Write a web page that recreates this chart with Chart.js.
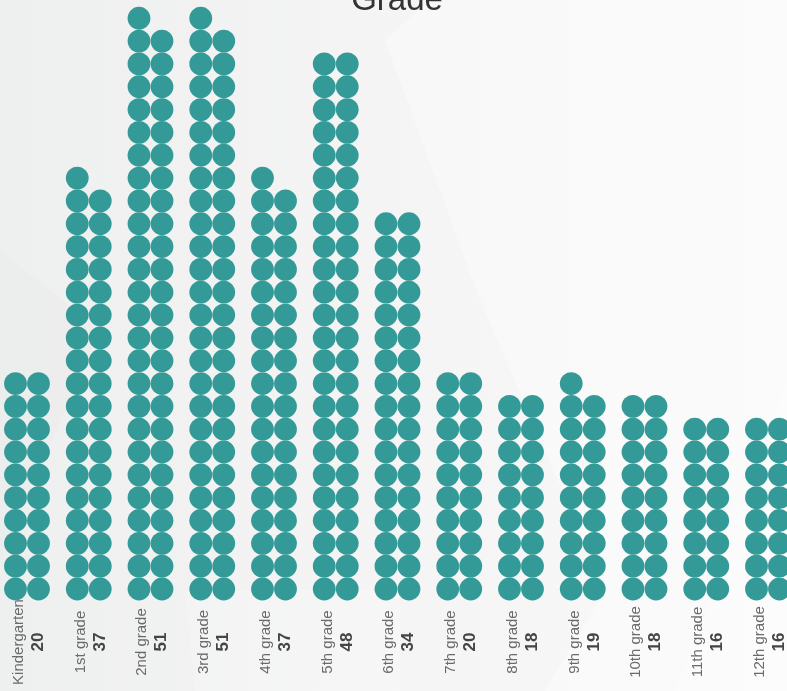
<!DOCTYPE html>
<html>
<head>
<meta charset="utf-8">
<title>Grade</title>
<script src="https://cdn.jsdelivr.net/npm/chart.js@4/dist/chart.umd.min.js"></script>
<style>
  html, body { margin: 0; padding: 0; background: #f5f5f5; }
  #gradeChart { display: block; }
</style>
</head>
<body>
<canvas id="gradeChart" width="787" height="691"></canvas>
<script>
// students per grade, one dot per student
const grades = ['Kindergarten', '1st grade', '2nd grade', '3rd grade', '4th grade', '5th grade',
  '6th grade', '7th grade', '8th grade', '9th grade', '10th grade', '11th grade', '12th grade'];
const students = [20, 37, 51, 51, 37, 48, 34, 20, 18, 19, 18, 16, 16];

const dotColor = '#339a98';
const colOffset = 0.1862; // half a dot width, in category units

// stack the dots two wide, odd one goes on top of the left column
let dots = [];
grades.forEach((g, i) => {
  for (let k = 0; k < students[i]; k++) {
    const row = Math.floor(k / 2);
    const side = k % 2 === 0 ? -1 : 1;
    dots.push({ x: i + side * colOffset, y: row });
  }
});

const backdrop = {
  id: 'backdrop',
  beforeDraw(chart) {
    const { ctx, width, height } = chart;
    ctx.save();
    const g = ctx.createLinearGradient(0, 0, width, 0);
    g.addColorStop(0, '#eeefef');
    g.addColorStop(0.45, '#f4f4f4');
    g.addColorStop(1, '#f9f9f9');
    ctx.fillStyle = g;
    ctx.fillRect(0, 0, width, height);
    const poly = (pts, fill) => {
      ctx.beginPath();
      ctx.moveTo(pts[0][0], pts[0][1]);
      pts.slice(1).forEach(p => ctx.lineTo(p[0], p[1]));
      ctx.closePath();
      ctx.fillStyle = fill;
      ctx.fill();
    };
    // faint low-poly facets
    poly([[430, 0], [787, 0], [787, 691], [545, 691], [605, 590], [480, 300], [385, 40]], 'rgba(255,255,255,0.35)');
    poly([[787, 380], [787, 691], [675, 691], [715, 590]], 'rgba(255,255,255,0.25)');
    poly([[0, 250], [100, 330], [0, 560]], 'rgba(220,222,222,0.12)');
    poly([[175, 560], [200, 560], [200, 691], [185, 691]], 'rgba(255,255,255,0.0)');
    poly([[185, 590], [400, 590], [400, 691], [195, 691]], 'rgba(255,255,255,0.2)');
    ctx.restore();
  }
};

const gradeLabels = {
  id: 'gradeLabels',
  afterDraw(chart) {
    const { ctx, scales: { x } } = chart;
    ctx.save();
    ctx.textAlign = 'center';
    ctx.textBaseline = 'alphabetic';
    grades.forEach((g, i) => {
      const px = x.getPixelForValue(i);
      ctx.save();
      ctx.translate(px, 642);
      ctx.rotate(-Math.PI / 2);
      ctx.font = '15px "Liberation Sans", Arial, sans-serif';
      ctx.fillStyle = '#6a6a6a';
      ctx.fillText(g, 0, -4);
      ctx.font = 'bold 17px "Liberation Sans", Arial, sans-serif';
      ctx.fillStyle = '#454545';
      ctx.fillText(String(students[i]), 0, 16);
      ctx.restore();
    });
    // chart heading
    ctx.font = '33px "Liberation Sans", Arial, sans-serif';
    ctx.fillStyle = '#333333';
    ctx.fillText('Grade', 397, 10);
    ctx.restore();
  }
};

new Chart(document.getElementById('gradeChart'), {
  type: 'scatter',
  data: {
    datasets: [{
      label: 'Students',
      data: dots,
      backgroundColor: dotColor,
      borderWidth: 0,
      pointRadius: 11.4,
      pointHoverRadius: 11.4,
      clip: false
    }]
  },
  options: {
    responsive: false,
    animation: false,
    layout: { autoPadding: false, padding: { left: 0, right: 0, top: 0, bottom: 91 } },
    plugins: {
      legend: { display: false },
      title: { display: false },
      tooltip: { enabled: false }
    },
    scales: {
      x: { type: 'linear', min: -0.4372, max: 12.308, display: false },
      y: { type: 'linear', min: -0.4818, max: 25.80, display: false }
    }
  },
  plugins: [backdrop, gradeLabels]
});
</script>
</body>
</html>
